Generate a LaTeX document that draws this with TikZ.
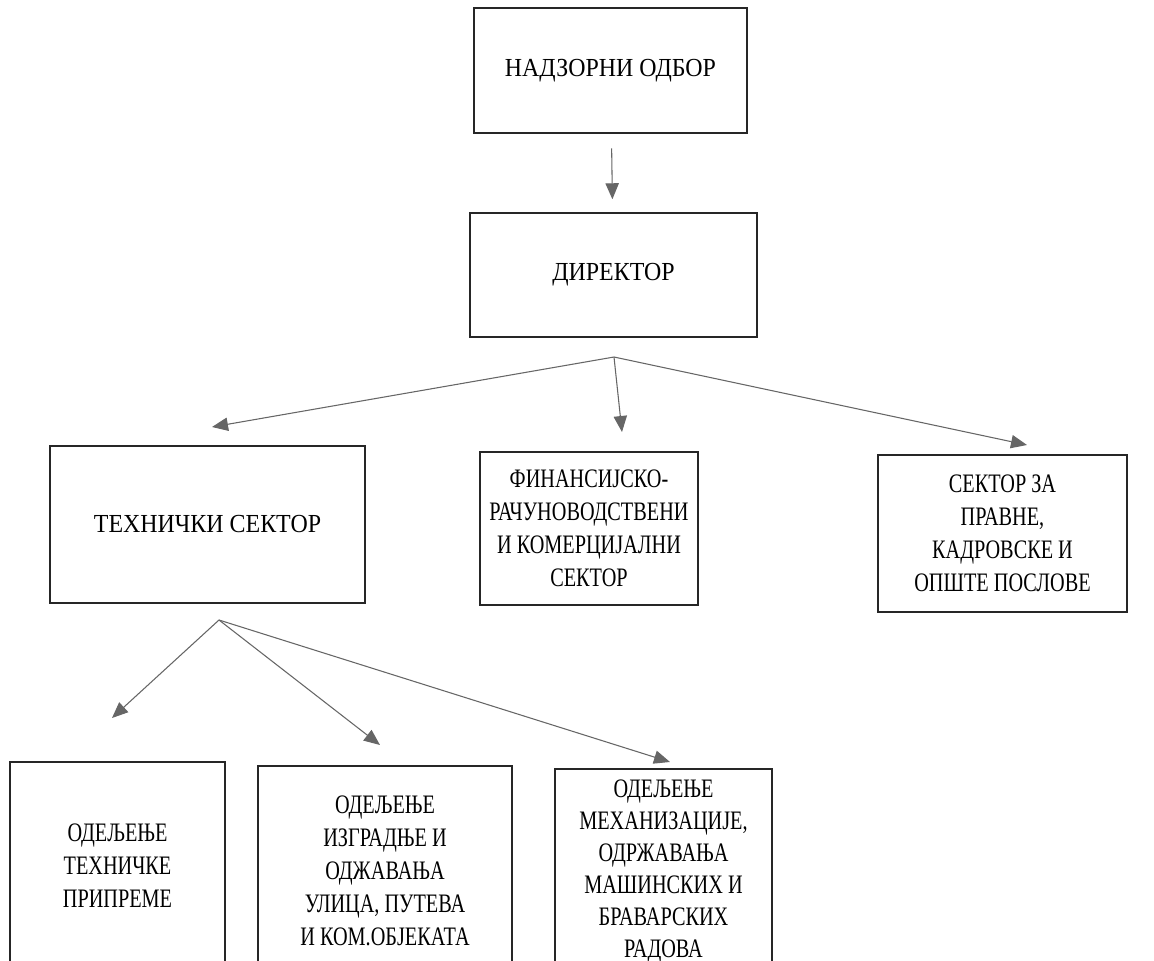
\documentclass[tikz,border=0pt]{standalone}
\usepackage{fontspec}
\setmainfont{Liberation Serif}[FakeStretch=0.92]
\newfontfamily\narrowfont{Liberation Serif}[FakeStretch=0.76]
\usetikzlibrary{arrows.meta}

\begin{document}
\begin{tikzpicture}[x=0.75pt, y=-0.75pt,
	every node/.style={rectangle, draw=black!85, line width=1.1pt, align=center, inner sep=0pt, font=\fontsize{19.5}{24.75}\selectfont},
	narrow/.style={font=\narrowfont\fontsize{20}{24.75}\selectfont},
	every edge/.style={draw=black!60, line width=0.8pt, -{Triangle[length=12pt, width=10pt]}}]
			\useasboundingbox (0,0) rectangle (1154,961);
			\clip (0,0) rectangle (1154,961);
			
			\node[minimum width=204.75pt, minimum height=93.75pt] (odbor) at (610.5,70.5){НАДЗОРНИ ОДБОР};
			\node[minimum width=215.25pt, minimum height=93pt] (dir) at (613.5,275){ДИРЕКТОР};
			\node[minimum width=236.25pt, minimum height=117.75pt] (teh) at (207.5,524.5){ТЕХНИЧКИ СЕКТОР};
			\node[narrow, minimum width=163.5pt, minimum height=114.75pt] (fin) at (589,528.5){ФИНАНСИЈСКО-\\РАЧУНОВОДСТВЕНИ\\И КОМЕРЦИЈАЛНИ\\СЕКТОР};
			\node[narrow, minimum width=186.75pt, minimum height=117.75pt] (prav) at (1002.5,533.5){СЕКТОР ЗА\\ПРАВНЕ,\\КАДРОВСКЕ И\\ОПШТЕ ПОСЛОВЕ};
			\node[narrow, minimum width=161.25pt, minimum height=156pt] (prip) at (117.5,866){ОДЕЉЕЊЕ\\ТЕХНИЧКЕ\\ПРИПРЕМЕ};
			\node[narrow, minimum width=190.5pt, minimum height=157.5pt] (izg) at (385,871){ОДЕЉЕЊЕ\\ИЗГРАДЊЕ И\\ОДЖАВАЊА\\УЛИЦА, ПУТЕВА\\И КОМ.ОБЈЕКАТА};
			\node[narrow, font=\narrowfont\fontsize{20}{24}\selectfont, minimum width=162.75pt, minimum height=153pt] (meh) at (663.5,871){ОДЕЉЕЊЕ\\МЕХАНИЗАЦИЈЕ,\\ОДРЖАВАЊА\\МАШИНСКИХ И\\БРАВАРСКИХ\\РАДОВА};
			
			\coordinate (dfork) at (614,357);
			\coordinate (tteh) at (212,427);
			\coordinate (tfin) at (622,432);
			\coordinate (tprav) at (1027,445);
			\coordinate (tfork) at (219,620);
			\coordinate (tprip) at (112,718);
			\coordinate (tizg) at (380,745);
			\coordinate (tmeh) at (670,762);
			
			\path (odbor) edge[shorten <=11pt, shorten >=9.75pt] (dir);
			\path (dfork) edge (tteh);
			\path (dfork) edge (tfin);
			\path (dfork) edge (tprav);
			\path (tfork) edge (tprip);
			\path (tfork) edge (tizg);
			\path (tfork) edge (tmeh);
			\end{tikzpicture}
\end{document}
